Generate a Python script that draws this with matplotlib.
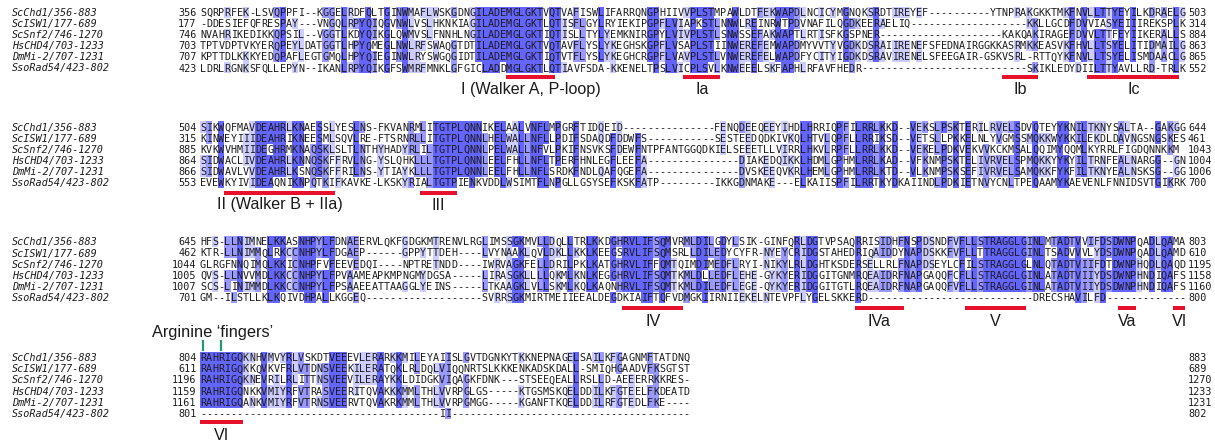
import matplotlib
matplotlib.use("Agg")
import matplotlib.pyplot as plt
from matplotlib.patches import Rectangle
from collections import Counter

# ---------------- data ----------------
names = ["ScChd1/356-883", "ScISW1/177-689", "ScSnf2/746-1270",
         "HsCHD4/703-1233", "DmMi-2/707-1231", "SsoRad54/423-802"]

block1 = [
    "SQRPRFEK-LSVQPPFI--KGGELRDFQLTGINWMAFLWSKGDNGILADEMGLGKTVQTVAFISWLIFARRQNGPHIIVVPLSTMPAWLDTFEKWAPDLNCICYMGNQKSRDTIREYEF" + "-" * 10 + "YTNPRAKGKKTMKFNVLLTTYEYILKDRAELG",
    "-DDESIEFQFRESPAY---VNGQLRPYQIQGVNWLVSLHKNKIAGILADEMGLGKTLQTISFLGYLRYIEKIPGPFLVIAPKSTLNNWLREINRWTPDVNAFILQGDKEERAELIQ" + "-" * 19 + "KKLLGCDFDVVIASYEIIIREKSPLK",
    "NVAHRIKEDIKKQPSIL--VGGTLKDYQIKGLQWMVSLFNNHLNGILADEMGLGKTIQTISLLTYLYEMKNIRGPYLVIVPLSTLSNWSSEFAKWAPTLRTISFKGSPNER" + "-" * 20 + "KAKQAKIRAGEFDVVLTTFEYIIKERALLS",
    "TPTVDPTVKYERQPEYLDATGGTLHPYQMEGLNWLRFSWAQGTDTILADEMGLGKTVQTAVFLYSLYKEGHSKGPFLVSAPLSTIINWEREFEMWAPDMYVVTYVGDKDSRAIIRENEFSFEDNAIRGGKKASRMKKEASVKFHVLLTSYELITIDMAILG",
    "KPTTDLKKKYEDQPAFLEGTGMQLHPYQIEGINWLRYSWGQGIDTILADEMGLGKTIQTVTFLYSLYKEGHCRGPFLVAVPLSTLVNWEREFELWAPDFYCITYIGDKDSRAVIRENELSFEEGAIR-GSKVSRL-RTTQYKFNVLLTSYELISMDAACLG",
    "LDRLRGNKSFQLLEPYN--IKANLRPYQIKGFSWMRFMNKLGFGICLADDMGLGKTLQTIAVFSDA-KKENELTPSLVICPLSVLKNWEEELSKFAPHLRFAVFHEDR" + "-" * 27 + "SKIKLEDYDIILTTYAVLLRD-TRLK",
]
block2 = [
    "SIKWQFMAVDEAHRLKNAESSLYESLNS-FKVANRMLITGTPLQNNIKELAALVNFLMPGRFTIDQEID" + "-" * 15 + "FENQDEEQEEYIHDLHRRIQPFILRRLKKD--VEKSLPSKTERILRVELSDVQTEYYKNILTKNYSALTA--GAKGG",
    "KINWEYIIIDEAHRIKNEESMLSQVLRE-FTSRNRLLITGTPLQNNLHELWALLNFLLPDIFSDAQDFDDWFS" + "-" * 11 + "SESTEEDQDKIVKQLHTVLQPFLLRRIKSD--VETSLLPKKELNLYVGMSSMQKKWYKKILEKDLDAVNGSNGSKES",
    "KVKWVHMIIDEGHRMKNAQSKLSLTLNTHYHADYRLILTGTPLQNNLPELWALLNFVLPKIFNSVKSFDEWFNTPFANTGGQDKIELSEEETLLVIRRLHKVLRPFLLRRLKKD--VEKELPDKVEKVVKCKMSALQQIMYQQMLKYRRLFIGDQNNKKM ",
    "SIDWACLIVDEAHRLKNNQSKFFRVLNG-YSLQHKLLLTGTPLQNNLEELFHLLNFLTPERFHNLEGFLEEFA" + "-" * 15 + "DIAKEDQIKKLHDMLGPHMLRRLKAD--VFKNMPSKTELIVRVELSPMQKKYYKYILTRNFEALNARGG--GN",
    "SIDWAVLVVDEAHRLKSNQSKFFRILNS-YTIAYKLLLTGTPLQNNLEELFHLLNFLSRDKFNDLQAFQGEFA" + "-" * 15 + "DVSKEEQVKRLHEMLGPHMLRRLKTD--VLKNMPSKSEFIVRVELSAMQKKFYKFILTKNYEALNSKSG--GG",
    "EVEWKYIVIDEAQNIKNPQTKIFKAVKE-LKSKYRIALTGTPIENKVDDLWSIMTFLNPGLLGSYSEFKSKFATP" + "-" * 9 + "IKKGDNMAKE---ELKAIISPFILRRTKYDKAIINDLPDKIETNVYCNLTPEQAAMYKAEVENLFNNIDSVTGIKRK",
]
block3 = [
    "HFS-LLNIMNELKKASNHPYLFDNAEERVLQKFGDGKMTRENVLRGLIMSSGKMVLLDQLLTRLKKDGHRVLIFSQMVRMLDILGDYLSIK-GINFQRLDGTVPSAQRRISIDHFNSPDSNDFVFLLSTRAGGLGINLMTADTVVIFDSDWNPQADLQAMA",
    "KTR-LLNIMMQLRKCCNHPYLFDGAEP------GPPYTTDEH----LVYNAAKLQVLDKLLKKLKEEGSRVLIFSQMSRLLDILEDYCYFR-NYEYCRIDGSTAHEDRIQAIDDYNAPDSKKFVFLLTTRAGGLGINLTSADVVVLYDSDWNPQADLQAMD",
    "GLRGFNNQIMQLKKICNHPFVFEEVEDQI----NPTRETNDD----IWRVAGKFELLDRILPKLKATGHRVLIFFQMTQIMDIMEDFLRYI-NIKYLRLDGHTKSDERSELLRLFNAPDSEYLCFILSTRAGGLGLNLQTADTVIIFDTDWNPHQDLQAQD",
    "QVS-LLNVVMDLKKCCNHPYLFPVAAMEAPKMPNGMYDGSA-----LIRASGKLLLLQKMLKNLKEGGHRVLIFSQMTKMLDLLEDFLEHE-GYKYERIDGGITGNMRQEAIDRFNAPGAQQFCFLLSTRAGGLGINLATADTVIIYDSDWNPHNDIQAFS",
    "SCS-LINIMMDLKKCCNHPYLFPSAAEEATTAAGGLYEINS-----LTKAAGKLVLLSKMLKQLKAQNHRVLIFSQMTKMLDILEDFLEGE-QYKYERIDGGITGTLRQEAIDRFNAPGAQQFVFLLSTRAGGLGINLATADTVIIYDSDWNPHNDIQAFS",
    "GM--ILSTLLKLKQIVDHPALLKGGEQ" + "-" * 19 + "SVRRSGKMIRTMEIIEEALDEGDKIAIFTQFVDMGKIIRNIIEKELNTEVPFLYGELSKKERD" + "-" * 27 + "DRECSHAVILFD" + "-" * 13,
]
block4 = [
    "RAHRIGQKNHVMVYRLVSKDTVEEEVLERARKKMILEYAIISLGVTDGNKYTKKNEPNAGELSAILKFGAGNMFTATDNQ",
    "RAHRIGQKKQVKVFRLVTDNSVEEKILERATQKLRLDQLVIQQNRTSLKKKENKADSKDALL-SMIQHGAADVFKSGTST",
    "RAHRIGQKNEVRILRLITTNSVEEVILERAYKKLDIDGKVIQAGKFDNK---STSEEQEALLRSLLD-AEEERRKKRES-",
    "RAHRIGQNKKVMIYRFVTRASVEERITQVAKKKMMLTHLVVRPGLGS-----KTGSMSKQELDDILKFGTEELFKDEATD",
    "RAHRIGQANKVMIYRFVTRNSVEERVTQVAKRKMMLTHLVVRPGMGG-----KGANFTKQELDDILRFGTEDLFKE----",
    "-" * 39 + "II" + "-" * 39,
]
blocks = [block1, block2, block3, block4]

start_numbers = [[356, 177, 746, 703, 707, 423],
                 [504, 315, 885, 864, 866, 553],
                 [645, 462, 1044, 1005, 1007, 701],
                 [804, 611, 1196, 1159, 1161, 801]]
end_numbers = [[503, 314, 884, 863, 865, 552],
               [644, 461, 1043, 1004, 1006, 700],
               [803, 610, 1195, 1158, 1160, 800],
               [883, 689, 1270, 1233, 1231, 802]]

# motif bars: (block index, label, first column, last column)  -- 1-based alignment columns
motif_blocks = [0, 0, 0, 0, 1, 1, 2, 2, 2, 2, 2, 3]
motif_labels = ["I (Walker A, P-loop)", "Ia", "Ib", "Ic",
                "II (Walker B + IIa)", "III",
                "IV", "IVa", "V", "Va", "VI", "VI"]
motif_first = [51, 80, 132, 146, 5, 37, 70, 108, 126, 151, 160, 1]
motif_last = [58, 85, 137, 160, 22, 42, 79, 115, 135, 153, 161, 7]

finger_cols = [1, 4]          # arginine fingers (block 4 columns)

# ---------------- layout / style ----------------
W, H = 1215, 441
X0 = 200.0          # pixel x of left edge of column 1
CW = 6.12           # pixel width of one column
block_top = [12.4, 127.0, 241.8, 357.6]   # centre of first row in each block
ROW_H = 11.1
bar_y = [77.0, 193.0, 307.7, 421.7]
label_y = [89.5, 205.0, 321.0, 435.5]

PID_COLS = [(80, "#6464ff"), (60, "#9999ff"), (40, "#ccccff")]
MONO = "DejaVu Sans Mono"
SANS = ["Liberation Sans", "DejaVu Sans"]
TXT = "#1c1c1c"


def px2col(px):
    return (px - X0) / CW


fig = plt.figure(figsize=(W / 100, H / 100), dpi=100)
ax = fig.add_axes([0, 0, 1, 1])
ax.set_xlim(px2col(0), px2col(W))
ax.set_ylim(H, 0)
ax.axis("off")


def column_colours(seqs):
    n = len(seqs)
    L = max(len(s) for s in seqs)
    out = [[None] * L for _ in seqs]
    for j in range(L):
        col = [s[j] if j < len(s) else "-" for s in seqs]
        cnt = Counter(c for c in col if c not in "- ")
        if not cnt:
            continue
        mx = max(cnt.values())
        modal = {c for c, v in cnt.items() if v == mx}
        pct = 100.0 * mx / n
        colour = None
        for thr, c in PID_COLS:
            if pct > thr:
                colour = c
                break
        if colour is None:
            continue
        for i, ch in enumerate(col):
            if ch in modal:
                out[i][j] = colour
    return out


for b, seqs in enumerate(blocks):
    cols = column_colours(seqs)
    for r, seq in enumerate(seqs):
        yc = block_top[b] + r * ROW_H
        # background cells (merge runs)
        j = 0
        L = len(seq)
        while j < L:
            c = cols[r][j]
            if c is None:
                j += 1
                continue
            k = j
            while k + 1 < L and cols[r][k + 1] == c:
                k += 1
            ax.add_patch(Rectangle((j, yc - ROW_H / 2), k - j + 1, ROW_H,
                                   facecolor=c, edgecolor="none", linewidth=0,
                                   antialiased=False, zorder=1))
            j = k + 1
        # residues
        for j, ch in enumerate(seq):
            if ch == " ":
                continue
            ax.text(j + 0.5, yc + 3.6, ch, family=MONO, fontsize=7.3,
                    ha="center", va="baseline", color=TXT, zorder=3)
        # names and numbers
        ax.text(px2col(12), yc + 3.6, names[r], family=MONO, style="italic",
                fontsize=7.3, ha="left", va="baseline", color=TXT)
        ax.text(px2col(196.5), yc + 3.6, str(start_numbers[b][r]), family=MONO,
                fontsize=7.3, ha="right", va="baseline", color=TXT)
        ax.text(px2col(1188), yc + 3.6, str(end_numbers[b][r]), family=MONO,
                fontsize=7.3, ha="left", va="baseline", color=TXT)

# motif bars and labels
for b, lab, c0, c1 in zip(motif_blocks, motif_labels, motif_first, motif_last):
    ax.add_patch(Rectangle((c0 - 1, bar_y[b] - 1.9), c1 - c0 + 1, 3.8,
                           facecolor="#e8112d", edgecolor="none", zorder=2))
    ax.text((c0 - 1 + c1) / 2.0, label_y[b], lab, family=SANS, fontsize=11.6,
            ha="center", va="center", color="#1a1a1a")

# arginine fingers
for c in finger_cols:
    ax.plot([c - 0.5, c - 0.5], [339.5, 350.5], color="#1f9e74", lw=1.6,
            solid_capstyle="butt", zorder=2)
ax.text((finger_cols[0] + finger_cols[-1]) / 2.0 - 0.5, 332.0,
        "Arginine \u2018fingers\u2019", family=SANS, fontsize=11.8,
        ha="center", va="center", color="#1a1a1a")

fig.savefig("out.png", dpi=100)
